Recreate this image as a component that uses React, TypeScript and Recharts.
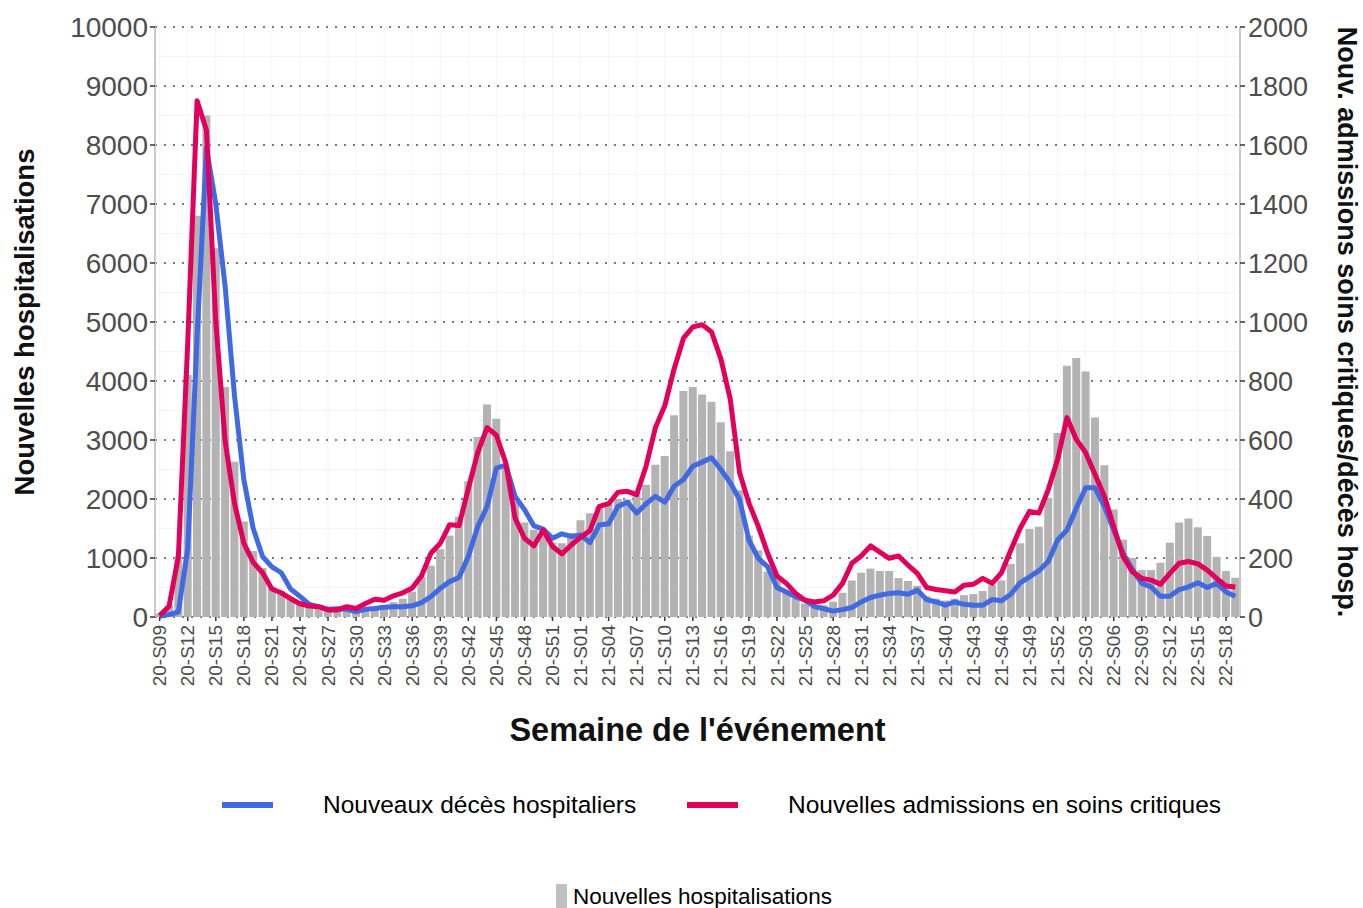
import React from 'react';
import { ComposedChart, Bar, Line, XAxis, YAxis, CartesianGrid } from 'recharts';

const weeks = [
  '20-S09','20-S10','20-S11','20-S12','20-S13','20-S14','20-S15','20-S16','20-S17','20-S18',
  '20-S19','20-S20','20-S21','20-S22','20-S23','20-S24','20-S25','20-S26','20-S27','20-S28',
  '20-S29','20-S30','20-S31','20-S32','20-S33','20-S34','20-S35','20-S36','20-S37','20-S38',
  '20-S39','20-S40','20-S41','20-S42','20-S43','20-S44','20-S45','20-S46','20-S47','20-S48',
  '20-S49','20-S50','20-S51','20-S52','20-S53','21-S01','21-S02','21-S03','21-S04','21-S05',
  '21-S06','21-S07','21-S08','21-S09','21-S10','21-S11','21-S12','21-S13','21-S14','21-S15',
  '21-S16','21-S17','21-S18','21-S19','21-S20','21-S21','21-S22','21-S23','21-S24','21-S25',
  '21-S26','21-S27','21-S28','21-S29','21-S30','21-S31','21-S32','21-S33','21-S34','21-S35',
  '21-S36','21-S37','21-S38','21-S39','21-S40','21-S41','21-S42','21-S43','21-S44','21-S45',
  '21-S46','21-S47','21-S48','21-S49','21-S50','21-S51','21-S52','22-S01','22-S02','22-S03',
  '22-S04','22-S05','22-S06','22-S07','22-S08','22-S09','22-S10','22-S11','22-S12','22-S13',
  '22-S14','22-S15','22-S16','22-S17','22-S18','22-S19',
];

// Nouvelles hospitalisations (left axis)
const hospitalisations = [
  60, 200, 1030, 4100, 6800, 8500, 6250, 3900, 2630, 1620,
  1120, 830, 500, 440, 340, 270, 220, 180, 140, 110,
  100, 110, 130, 160, 200, 250, 310, 430, 680, 870,
  1150, 1380, 1700, 2300, 3050, 3600, 3360, 2550, 1950, 1600,
  1480, 1480, 1260, 1250, 1420, 1640, 1760, 1870, 1930, 2000,
  1990, 2100, 2240, 2580, 2730, 3420, 3830, 3900, 3770, 3650,
  3300, 2810, 2150, 1380, 1130, 770, 680, 450, 310, 230,
  180, 200, 260, 410, 620, 750, 820, 780, 780, 660,
  610, 530, 350, 310, 280, 310, 370, 390, 440, 540,
  620, 900, 1250, 1490, 1530, 2020, 3120, 4260, 4390, 4160,
  3380, 2570, 1820, 1310, 1000, 795, 795, 920, 1260, 1600,
  1670, 1520, 1375, 1020, 780, 665,
];

// Nouveaux décès hospitaliers (right axis)
const decesHospitaliers = [
  2, 8, 17, 231, 950, 1590, 1400, 1120, 750, 465,
  300, 205, 170, 150, 95, 70, 43, 35, 26, 28,
  26, 18, 26, 29, 33, 35, 35, 38, 49, 69,
  97, 120, 134, 205, 306, 374, 505, 515, 409, 364,
  309, 298, 267, 282, 273, 278, 252, 312, 316, 375,
  389, 352, 384, 409, 389, 443, 466, 511, 525, 540,
  500, 455, 398, 261, 199, 170, 100, 85, 68, 57,
  36, 28, 20, 25, 32, 51, 66, 74, 80, 82,
  77, 91, 59, 51, 40, 51, 43, 40, 40, 59,
  55, 77, 116, 136, 157, 188, 261, 295, 369, 438,
  438, 375, 295, 216, 161, 114, 102, 70, 70, 93,
  102, 116, 100, 114, 85, 70,
];

// Nouvelles admissions en soins critiques (right axis)
const soinsCritiques = [
  5, 36, 205, 930, 1750, 1650, 1000, 595, 385, 250,
  185, 150, 95, 82, 62, 45, 37, 35, 24, 24,
  35, 29, 46, 60, 57, 72, 82, 98, 140, 216,
  250, 313, 310, 435, 557, 642, 616, 523, 335, 267,
  241, 295, 239, 214, 244, 270, 293, 375, 384, 423,
  426, 415, 511, 642, 716, 841, 945, 983, 991, 966,
  875, 739, 489, 386, 307, 216, 139, 114, 80, 57,
  51, 55, 74, 114, 182, 207, 241, 220, 199, 207,
  176, 148, 100, 93, 89, 85, 108, 111, 131, 114,
  150, 227, 301, 358, 352, 432, 534, 676, 602, 557,
  483, 409, 307, 205, 153, 131, 125, 111, 148, 182,
  188, 180, 159, 131, 105, 102,
];

const leftTicks = [0, 1000, 2000, 3000, 4000, 5000, 6000, 7000, 8000, 9000, 10000];
const rightTicks = [0, 200, 400, 600, 800, 1000, 1200, 1400, 1600, 1800, 2000];
const leftMinor = [500, 1500, 2500, 3500, 4500, 5500, 6500, 7500, 8500, 9500];

const BLUE = '#4169E1';
const RED = '#E3005C';
const GREY = '#b3b3b3';
const FONT = '"Liberation Sans", Arial, Helvetica, sans-serif';

const lineLegend = [
  { label: 'Nouveaux décès hospitaliers', color: BLUE },
  { label: 'Nouvelles admissions en soins critiques', color: RED },
];
const barLegend = { label: 'Nouvelles hospitalisations', color: GREY };

const data = weeks.map((w, i) => ({
  week: w,
  hosp: hospitalisations[i],
  deces: decesHospitaliers[i],
  critiques: soinsCritiques[i],
}));

const XTick = (props: any) => {
  const { x, y, payload } = props;
  return (
    <text
      x={x}
      y={y}
      transform={`rotate(-90, ${x}, ${y})`}
      textAnchor="end"
      dominantBaseline="central"
      fill="#4d4d4d"
      fontSize={19}
      fontFamily={FONT}
    >
      {payload.value}
    </text>
  );
};

const LeftTitle = (props: any) => {
  const vb = props.viewBox || { x: 0, y: 27, width: 155, height: 590 };
  const cx = vb.x + 24;
  const cy = vb.y + vb.height / 2;
  return (
    <text
      x={cx}
      y={cy}
      transform={`rotate(-90, ${cx}, ${cy})`}
      textAnchor="middle"
      dominantBaseline="central"
      fontSize={27.5}
      fontWeight="bold"
      fontFamily={FONT}
      fill="#111"
    >
      Nouvelles hospitalisations
    </text>
  );
};

const RightTitle = (props: any) => {
  const vb = props.viewBox || { x: 1240, y: 27, width: 123, height: 590 };
  const cx = vb.x + 107;
  const cy = vb.y + vb.height / 2;
  return (
    <text
      x={cx}
      y={cy}
      transform={`rotate(90, ${cx}, ${cy})`}
      textAnchor="middle"
      dominantBaseline="central"
      fontSize={27}
      fontWeight="bold"
      fontFamily={FONT}
      fill="#111"
    >
      Nouv. admissions soins critiques/décès hosp.
    </text>
  );
};

const BottomTitle = (props: any) => {
  const vb = props.viewBox || { x: 155, y: 617, width: 1085, height: 291 };
  const cx = vb.x + vb.width / 2;
  const cy = vb.y + 113;
  return (
    <text
      x={cx}
      y={cy}
      textAnchor="middle"
      dominantBaseline="central"
      fontSize={32.5}
      fontWeight="bold"
      fontFamily={FONT}
      fill="#111"
    >
      Semaine de l'événement
    </text>
  );
};

export default function App() {
  return (
    <div
      style={{
        position: 'absolute',
        left: 0,
        top: 0,
        width: 1363,
        height: 908,
        background: '#fff',
        overflow: 'hidden',
        fontFamily: FONT,
      }}
    >
      <ComposedChart
        width={1363}
        height={908}
        data={data}
        margin={{ top: 27, right: 0, bottom: 0, left: 0 }}
        barCategoryGap={0.6}
      >
        <CartesianGrid
          yAxisId="left"
          horizontalValues={leftMinor}
          verticalValues={weeks}
          stroke="#f4f4f4"
          strokeWidth={1}
        />
        <CartesianGrid
          yAxisId="left"
          vertical={false}
          horizontalValues={leftTicks}
          stroke="#7a7a7a"
          strokeWidth={2}
          strokeDasharray="2 7"
        />
        <XAxis
          dataKey="week"
          interval={2}
          height={291}
          tickSize={4}
          tickMargin={4}
          axisLine={false}
          tickLine={{ stroke: '#333', strokeWidth: 1.5 }}
          tick={<XTick />}
          label={<BottomTitle />}
        />
        <YAxis
          yAxisId="left"
          orientation="left"
          width={155}
          domain={[0, 10000]}
          ticks={leftTicks}
          interval={0}
          tickSize={5}
          tickMargin={2}
          axisLine={{ stroke: '#c8c8c8', strokeWidth: 2 }}
          tickLine={{ stroke: '#333', strokeWidth: 1.5 }}
          tick={{ fill: '#4d4d4d', fontSize: 28, fontFamily: FONT }}
          label={<LeftTitle />}
        />
        <YAxis
          yAxisId="right"
          orientation="right"
          width={123}
          domain={[0, 2000]}
          ticks={rightTicks}
          interval={0}
          tickSize={5}
          tickMargin={3}
          axisLine={{ stroke: '#c8c8c8', strokeWidth: 2 }}
          tickLine={{ stroke: '#333', strokeWidth: 1.5 }}
          tick={{ fill: '#4d4d4d', fontSize: 27, fontFamily: FONT }}
          label={<RightTitle />}
        />
        <Bar yAxisId="left" dataKey="hosp" fill={GREY} isAnimationActive={false} />
        <Line
          yAxisId="right"
          dataKey="deces"
          type="linear"
          stroke={BLUE}
          strokeWidth={5}
          dot={false}
          strokeLinejoin="round"
          isAnimationActive={false}
        />
        <Line
          yAxisId="right"
          dataKey="critiques"
          type="linear"
          stroke={RED}
          strokeWidth={5}
          dot={false}
          strokeLinejoin="round"
          isAnimationActive={false}
        />
      </ComposedChart>

      {/* Line legend */}
      {lineLegend.map((item, i) => (
        <React.Fragment key={item.label}>
          <div
            style={{
              position: 'absolute',
              left: i === 0 ? 222 : 687,
              top: 802,
              width: 51,
              height: 6,
              background: item.color,
            }}
          />
          <div
            style={{
              position: 'absolute',
              left: i === 0 ? 323 : 788,
              top: 793,
              fontSize: 24.5,
              lineHeight: '24.5px',
              color: '#000',
              whiteSpace: 'nowrap',
            }}
          >
            {item.label}
          </div>
        </React.Fragment>
      ))}

      {/* Bar legend */}
      <div
        style={{
          position: 'absolute',
          left: 556,
          top: 884,
          width: 11,
          height: 26,
          background: '#c0c0c0',
        }}
      />
      <div
        style={{
          position: 'absolute',
          left: 573,
          top: 886,
          fontSize: 22.5,
          lineHeight: '22.5px',
          color: '#000',
          whiteSpace: 'nowrap',
        }}
      >
        {barLegend.label}
      </div>
    </div>
  );
}
